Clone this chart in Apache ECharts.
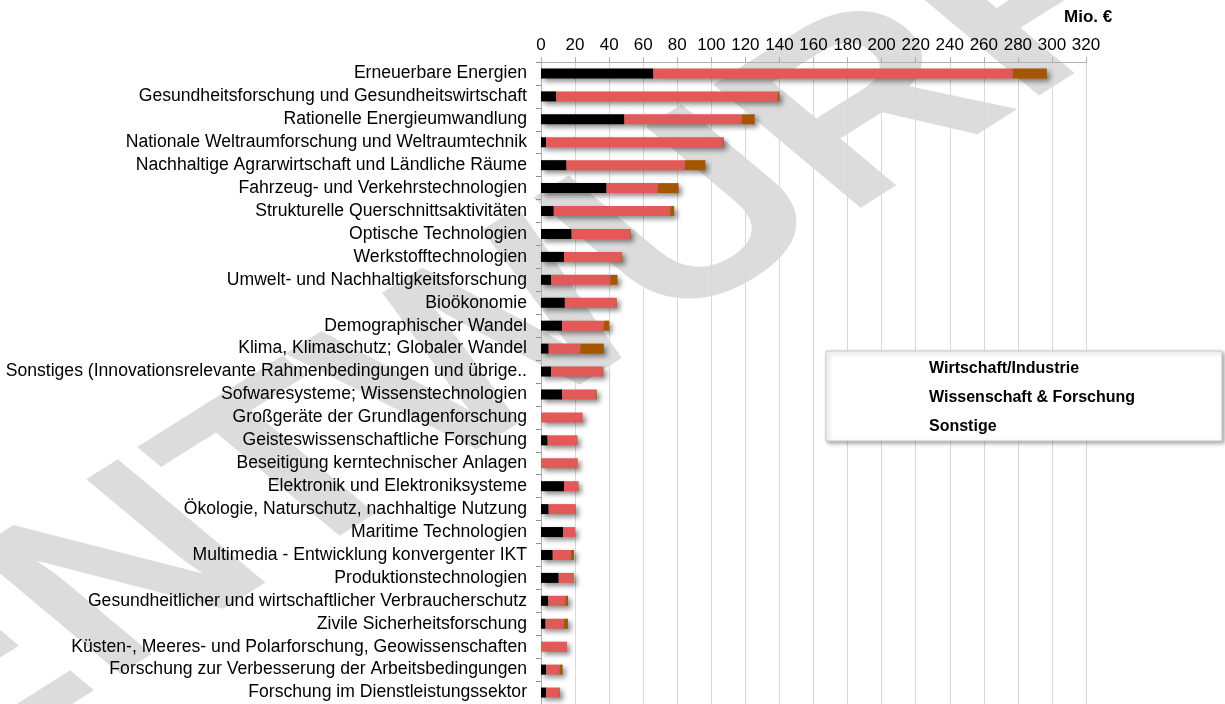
<!DOCTYPE html>
<html>
<head>
<meta charset="utf-8">
<script src="https://cdn.jsdelivr.net/npm/echarts@6/dist/echarts.min.js"></script>
<style>
html,body{margin:0;padding:0;background:#fff;}
#c{width:1225px;height:704px;}
</style>
</head>
<body>
<div id="c"></div>
<script>
var categories = [
  "Erneuerbare Energien",
  "Gesundheitsforschung und Gesundheitswirtschaft",
  "Rationelle Energieumwandlung",
  "Nationale Weltraumforschung und Weltraumtechnik",
  "Nachhaltige Agrarwirtschaft und Ländliche Räume",
  "Fahrzeug- und Verkehrstechnologien",
  "Strukturelle Querschnittsaktivitäten",
  "Optische Technologien",
  "Werkstofftechnologien",
  "Umwelt- und Nachhaltigkeitsforschung",
  "Bioökonomie",
  "Demographischer Wandel",
  "Klima, Klimaschutz; Globaler Wandel",
  "Sonstiges (Innovationsrelevante Rahmenbedingungen und übrige Bereiche)",
  "Sofwaresysteme; Wissenstechnologien",
  "Großgeräte der Grundlagenforschung",
  "Geisteswissenschaftliche Forschung",
  "Beseitigung kerntechnischer Anlagen",
  "Elektronik und Elektroniksysteme",
  "Ökologie, Naturschutz, nachhaltige Nutzung",
  "Maritime Technologien",
  "Multimedia - Entwicklung konvergenter IKT",
  "Produktionstechnologien",
  "Gesundheitlicher und wirtschaftlicher Verbraucherschutz",
  "Zivile Sicherheitsforschung",
  "Küsten-, Meeres- und Polarforschung, Geowissenschaften",
  "Forschung zur Verbesserung der Arbeitsbedingungen",
  "Forschung im Dienstleistungssektor"
];
var wirtschaft   = [66, 9, 49, 3, 15, 38.5, 7.5, 18, 13.5, 6, 14, 12.4, 4.5, 5.9, 12.5, 0, 3.9, 0, 13.5, 4.5, 12.9, 6.9, 10.4, 4.3, 2.7, 0, 3.1, 3.1];
var wissenschaft = [211, 130, 69, 104, 69.5, 30, 68.4, 34.4, 34, 34.6, 30.3, 24.3, 18.6, 30.4, 19.9, 24.5, 17.3, 21.6, 8.1, 15.7, 7.1, 10.6, 9, 10, 10.6, 15.3, 7.7, 7.7];
var sonstige     = [20, 1, 7.5, 0.4, 12, 12.3, 2.3, 0.3, 0.2, 4.3, 0.3, 3.3, 13.8, 0.3, 0.4, 0, 0.2, 0, 0.4, 0.2, 0, 1.9, 0, 1.6, 2.6, 0, 1.9, 0.4];
var seriesNames = ["Wirtschaft/Industrie", "Wissenschaft & Forschung", "Sonstige"];
var unitLabel = "Mio. €";
var watermarkText = "ENTWURF";

var FONT = "'Liberation Sans', Arial, sans-serif";
var colors = ["#000000", "#E35957", "#A65500"];
var shadow = {shadowColor: "rgba(0,0,0,0.45)", shadowBlur: 5, shadowOffsetX: 3, shadowOffsetY: 3};

function mkSeries(name, data, color) {
  return {
    name: name, type: "bar", stack: "total", data: data, barWidth: 10,
    itemStyle: Object.assign({color: color}, shadow),
    z: 3
  };
}

var chart = echarts.init(document.getElementById("c"), null, {renderer: "canvas"});
chart.setOption({
  animation: false,
  backgroundColor: "#fff",
  grid: {left: 541, right: 139, top: 62, bottom: -2, containLabel: false},
  xAxis: {
    type: "value", position: "top", min: 0, max: 320, interval: 20,
    axisLine: {show: true, lineStyle: {color: "#B0B0B0", width: 1}},
    axisTick: {show: true, length: 5, lineStyle: {color: "#B0B0B0"}},
    axisLabel: {color: "#000", fontFamily: FONT, fontSize: 17, margin: 8},
    splitLine: {show: true, lineStyle: {color: "#D9D9D9", width: 1}}
  },
  yAxis: {
    type: "category", data: categories, inverse: true,
    axisLine: {show: true, lineStyle: {color: "#B0B0B0"}},
    axisTick: {show: true, length: 5, interval: 0, lineStyle: {color: "#909090"}},
    axisLabel: {color: "#000", fontFamily: FONT, fontSize: 17.6, margin: 14, interval: 0,
                width: 527, overflow: "truncate", ellipsis: ".."},
    splitLine: {show: false}
  },
  legend: {
    data: seriesNames, orient: "vertical", left: 909, top: 354,
    itemWidth: 10, itemHeight: 10, itemGap: 9,
    itemStyle: {opacity: 0},
    textStyle: {color: "#000", fontFamily: FONT, fontSize: 16, fontWeight: "bold", lineHeight: 20},
    selectedMode: false, z: 100
  },
  graphic: [
    {type: "group", x: 497, y: 350, scaleY: 0.725, z: -100, silent: true,
     children: [
       {type: "text", x: 0, y: 0, rotation: 0.715, z: -100, silent: true,
        style: {text: watermarkText, font: "bold 327px " + FONT, fill: "#DCDCDC", align: "center", verticalAlign: "middle"}}
     ]},
    {type: "rect", shape: {x: 826, y: 351, width: 396, height: 90}, z: 50,
     style: {fill: "#fff", stroke: "#C8C8C8", lineWidth: 1, shadowColor: "rgba(0,0,0,0.35)", shadowBlur: 4, shadowOffsetX: 2, shadowOffsetY: 2}},
    {type: "text", left: 1064, top: 9, z: 50,
     style: {text: unitLabel, font: "bold 17px " + FONT, fill: "#000"}}
  ],
  series: [
    mkSeries(seriesNames[0], wirtschaft, colors[0]),
    mkSeries(seriesNames[1], wissenschaft, colors[1]),
    mkSeries(seriesNames[2], sonstige, colors[2])
  ]
});
</script>
</body>
</html>
